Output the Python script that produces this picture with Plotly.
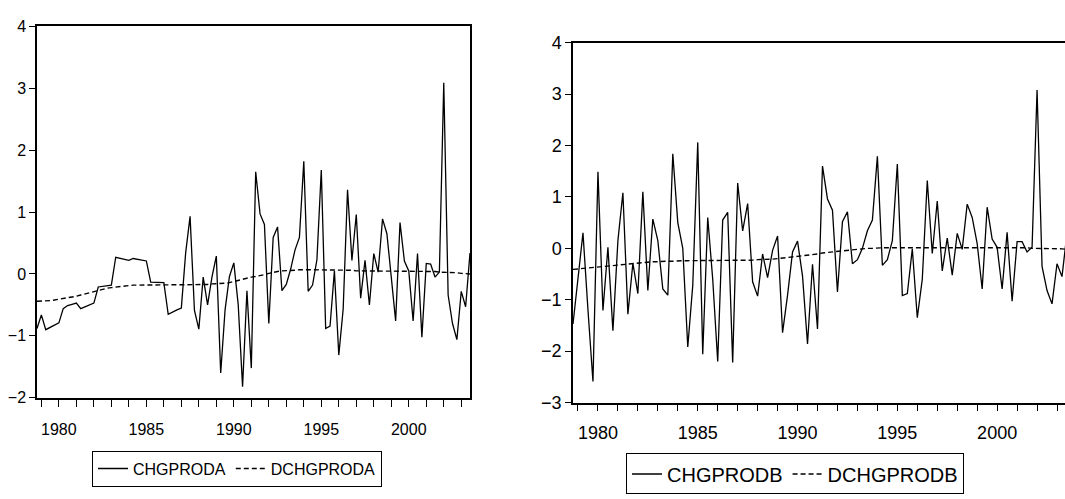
import pandas as pd
import plotly.graph_objects as go

# ---- data (quarterly, 100 observations) ----
periods = pd.period_range("1978Q4", periods=100, freq="Q")
t = [p.year + (p.quarter - 1) / 4 for p in periods]

chgproda = [-0.88, -0.66, -0.90, -0.86, -0.82, -0.79, -0.56, -0.51, -0.49, -0.47,
            -0.56, -0.53, -0.50, -0.47, -0.21, -0.20, -0.19, -0.18, 0.27, 0.25,
            0.23, 0.22, 0.25, 0.24, 0.23, 0.21, -0.13, -0.13, -0.13, -0.14,
            -0.65, -0.61, -0.58, -0.55, 0.35, 0.93, -0.59, -0.89, -0.05, -0.50,
            -0.05, 0.29, -1.60, -0.58, -0.04, 0.18, -0.49, -1.82, -0.27, -1.52,
            1.65, 0.97, 0.80, -0.80, 0.59, 0.76, -0.27, -0.17, 0.08, 0.39,
            0.59, 1.82, -0.28, -0.18, 0.23, 1.68, -0.88, -0.84, 0.05, -1.31,
            -0.57, 1.36, 0.22, 0.96, -0.39, 0.22, -0.50, 0.33, 0.03, 0.89,
            0.65, -0.05, -0.76, 0.83, 0.21, 0.05, -0.76, 0.33, -1.02, 0.17,
            0.16, -0.05, 0.03, 3.09, -0.34, -0.80, -1.06, -0.28, -0.53, 0.34]

dchgproda = [-0.44, -0.44, -0.43, -0.43, -0.42, -0.41, -0.40, -0.39, -0.37, -0.36,
             -0.34, -0.32, -0.30, -0.28, -0.26, -0.24, -0.23, -0.22, -0.21, -0.20,
             -0.19, -0.19, -0.18, -0.18, -0.18, -0.18, -0.18, -0.18, -0.18, -0.18,
             -0.18, -0.18, -0.18, -0.18, -0.18, -0.18, -0.17, -0.17, -0.17, -0.17,
             -0.16, -0.16, -0.15, -0.15, -0.14, -0.12, -0.10, -0.08, -0.06, -0.05,
             -0.04, -0.03, -0.01, 0.01, 0.03, 0.04, 0.05, 0.05, 0.06, 0.06,
             0.07, 0.07, 0.07, 0.07, 0.07, 0.07, 0.07, 0.06, 0.06, 0.06,
             0.06, 0.06, 0.06, 0.05, 0.05, 0.05, 0.05, 0.05, 0.05, 0.05,
             0.05, 0.05, 0.04, 0.04, 0.04, 0.04, 0.04, 0.04, 0.04, 0.04,
             0.04, 0.04, 0.03, 0.03, 0.03, 0.02, 0.02, 0.01, 0.01, 0.00]

chgprodb = [-1.47, -0.60, 0.30, -1.20, -2.59, 1.49, -1.21, 0.02, -1.60, 0.15,
            1.08, -1.28, -0.29, -0.88, 1.10, -0.82, 0.57, 0.15, -0.79, -0.91,
            1.84, 0.50, 0.00, -1.92, -0.72, 2.06, -2.06, 0.60, -0.60, -2.20,
            0.55, 0.70, -2.22, 1.27, 0.34, 0.87, -0.65, -0.93, -0.11, -0.57,
            -0.04, 0.24, -1.64, -0.91, -0.07, 0.14, -0.54, -1.86, -0.31, -1.57,
            1.60, 0.96, 0.74, -0.85, 0.52, 0.71, -0.30, -0.22, 0.00, 0.34,
            0.55, 1.79, -0.33, -0.22, 0.15, 1.64, -0.92, -0.88, -0.01, -1.35,
            -0.60, 1.32, -0.10, 0.92, -0.44, 0.20, -0.52, 0.29, -0.02, 0.86,
            0.60, 0.09, -0.79, 0.80, 0.18, 0.02, -0.79, 0.31, -1.03, 0.13,
            0.13, -0.07, 0.02, 3.08, -0.35, -0.82, -1.08, -0.30, -0.55, 0.30]

dchgprodb = [-0.41, -0.40, -0.39, -0.38, -0.37, -0.36, -0.35, -0.34, -0.33, -0.32,
             -0.31, -0.30, -0.29, -0.28, -0.27, -0.27, -0.26, -0.26, -0.25, -0.25,
             -0.25, -0.24, -0.24, -0.24, -0.24, -0.24, -0.24, -0.24, -0.24, -0.24,
             -0.24, -0.24, -0.24, -0.23, -0.23, -0.23, -0.23, -0.22, -0.22, -0.22,
             -0.21, -0.20, -0.19, -0.18, -0.17, -0.16, -0.15, -0.14, -0.12, -0.11,
             -0.09, -0.08, -0.06, -0.05, -0.04, -0.03, -0.02, -0.01, -0.01, 0.00,
             0.00, 0.01, 0.01, 0.01, 0.01, 0.01, 0.01, 0.01, 0.01, 0.01,
             0.01, 0.01, 0.01, 0.02, 0.02, 0.02, 0.02, 0.02, 0.02, 0.02,
             0.02, 0.02, 0.02, 0.02, 0.02, 0.02, 0.01, 0.01, 0.01, 0.01,
             0.01, 0.01, 0.00, 0.00, 0.00, 0.00, -0.01, -0.01, -0.01, -0.02]

W, H = 1065, 499
FONT = "Liberation Sans, Arial, sans-serif"

fig = go.Figure()
fig.add_trace(go.Scatter(x=t, y=chgproda, mode="lines", name="CHGPRODA",
                         line=dict(color="black", width=1.3), xaxis="x", yaxis="y", legend="legend"))
fig.add_trace(go.Scatter(x=t, y=dchgproda, mode="lines", name="DCHGPRODA",
                         line=dict(color="black", width=1.4, dash="5px,3px"), xaxis="x", yaxis="y", legend="legend"))
fig.add_trace(go.Scatter(x=t, y=chgprodb, mode="lines", name="CHGPRODB",
                         line=dict(color="black", width=1.3), xaxis="x2", yaxis="y2", legend="legend2"))
fig.add_trace(go.Scatter(x=t, y=dchgprodb, mode="lines", name="DCHGPRODB",
                         line=dict(color="black", width=1.4, dash="5px,3px"), xaxis="x2", yaxis="y2", legend="legend2"))

def xax(domain, rng, fs, standoff):
    return dict(domain=domain, range=rng, showgrid=False, zeroline=False,
                showline=True, linecolor="black", linewidth=1.5, mirror=True,
                ticks="outside", ticklen=7, tickwidth=1, tickcolor="black",
                tick0=1980, dtick=5, tickfont=dict(family=FONT, size=fs, color="black"),
                ticklabelstandoff=standoff,
                minor=dict(dtick=1, tick0=1980, ticks="outside", ticklen=7, tickcolor="black", tickwidth=1))

def yax(domain, rng, fs, mirror, anchor):
    return dict(domain=domain, range=rng, showgrid=False, zeroline=False, anchor=anchor,
                showline=True, linecolor="black", linewidth=1.5, mirror=mirror,
                ticks="outside", ticklen=6, tickwidth=1, tickcolor="black", dtick=1,
                tickfont=dict(family=FONT, size=fs, color="black"))

fig.update_layout(
    width=W, height=H, margin=dict(l=0, r=0, t=0, b=0),
    paper_bgcolor="white", plot_bgcolor="white",
    xaxis=xax([37 / W, 470 / W], [1978.75, 2003.5], 16, 9) | dict(anchor="y"),
    yaxis=yax([(H - 404) / H, (H - 17) / H], [-2, 4], 16, True, "x"),
    xaxis2=xax([573 / W, 1.0], [1978.75, 2003.4], 18, 6) | dict(anchor="y2"),
    yaxis2=yax([(H - 409) / H, (H - 34) / H], [-3, 4], 18, False, "x2"),
    legend=dict(orientation="h", x=92 / W, xanchor="left", y=(H - 459) / H, yanchor="top",
                bordercolor="black", borderwidth=1, bgcolor="white",
                font=dict(family=FONT, size=16, color="black")),
    legend2=dict(orientation="h", x=626 / W, xanchor="left", y=(H - 462) / H, yanchor="top",
                 bordercolor="black", borderwidth=1, bgcolor="white",
                 font=dict(family=FONT, size=20, color="black")),
    showlegend=True,
)

fig.write_html("out.html", config={"displayModeBar": False},
               post_script="document.body.style.margin='0';document.body.style.overflow='hidden';")
